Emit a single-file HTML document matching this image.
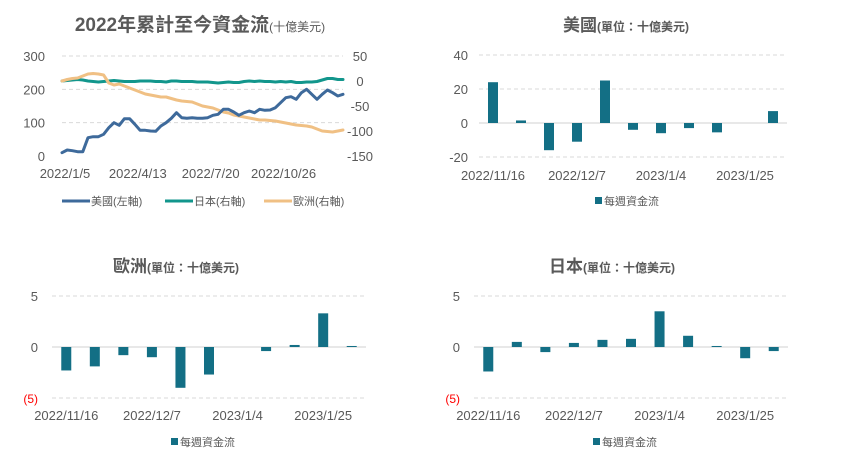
<!DOCTYPE html>
<html><head><meta charset="utf-8"><style>
body{margin:0;background:#fff;}
svg{display:block;font-family:"Liberation Sans","Noto Sans CJK TC",sans-serif;}
</style></head><body>
<svg id="s" width="852" height="472">
<text x="200" y="31" text-anchor="middle" fill="#595959" font-weight="bold"><tspan font-size="19">2022年累計至今資金流</tspan><tspan font-size="12" font-weight="normal">(十億美元)</tspan></text>
<text x="626" y="31" text-anchor="middle" fill="#595959" font-weight="bold"><tspan font-size="17">美國</tspan><tspan font-size="12">(單位：十億美元)</tspan></text>
<text x="176" y="272" text-anchor="middle" fill="#595959" font-weight="bold"><tspan font-size="17">歐洲</tspan><tspan font-size="12">(單位：十億美元)</tspan></text>
<text x="612" y="272" text-anchor="middle" fill="#595959" font-weight="bold"><tspan font-size="17">日本</tspan><tspan font-size="12">(單位：十億美元)</tspan></text>
</svg>
<script>
const usLine=[10,18,16,13,13,55,58,58,65,85,100,92,112,112,95,77,77,75,74,90,100,113,130,115,113,115,113,113,115,122,125,140,140,132,122,130,135,130,140,137,138,145,160,175,178,170,190,200,185,170,185,198,190,180,185];
const jpLine=[0,1,2,3,2,0,-1,-2,-1,0,1,0,-1,-1,-1,0,0,0,-1,-1,-2,0,0,-1,-1,-1,-2,-2,-2,-3,-4,-3,-2,-3,-3,-1,0,-1,0,-1,-1,-2,-1,-2,-1,-3,-3,-2,-2,-1,2,5,5,3,3];
const euLine=[0,3,5,6,10,14,15,14,12,-4,-8,-6,-10,-14,-18,-22,-26,-28,-30,-32,-32,-35,-38,-40,-41,-42,-46,-50,-52,-54,-58,-62,-64,-68,-70,-72,-74,-76,-78,-78,-79,-80,-82,-84,-86,-88,-89,-90,-92,-96,-100,-101,-102,-100,-98];
const lineTicks=["2022/1/5","2022/4/13","2022/7/20","2022/10/26"];
const lineTickIdx=[0,14,28,42];
const leftTicks=[0,100,200,300];
const rightTicks=[50,0,-50,-100,-150];
const weekCats=["2022/11/16","2022/11/23","2022/11/30","2022/12/7","2022/12/14","2022/12/21","2023/1/4","2023/1/11","2023/1/18","2023/1/25","2023/2/1"];
const barTickIdx=[0,3,6,9];
const usBars=[24,1.5,-16,-11,25,-4,-6,-3,-5.5,0,7];
const usTicks=[40,20,0,-20];
const euBars=[-2.3,-1.9,-0.8,-1.0,-4.0,-2.7,0,-0.4,0.2,3.3,0.1];
const jpBars=[-2.4,0.5,-0.5,0.4,0.7,0.8,3.5,1.1,0.1,-1.1,-0.4];
const smallTicks=[5,0,-5];

const S=document.getElementById('s');const NS='http://www.w3.org/2000/svg';
function el(t,a,txt){const e=document.createElementNS(NS,t);for(const k in a)e.setAttribute(k,a[k]);if(txt!==undefined)e.textContent=txt;S.appendChild(e);return e;}
const grey='#595959',grid='#d9d9d9',bar='#136f85';

const lx0=62,lx1=343,ly0=56,ly1=156;
const xL=i=>lx0+i*(lx1-lx0)/(usLine.length-1);
const yL=v=>ly1-(v/300)*(ly1-ly0);
const yR=v=>ly1-((v+150)/200)*(ly1-ly0);
leftTicks.forEach(t=>{
 if(t>0){const g=el('line',{x1:lx0,x2:lx1,y1:yL(t),y2:yL(t),stroke:grid,'stroke-dasharray':'4,3'});}
 const e=el('text',{x:45,y:yL(t)+5,'text-anchor':'end','font-size':13,fill:grey},t);
 
});
rightTicks.forEach(t=>{const e=el('text',{x:360,y:yR(t)+5,'text-anchor':'middle','font-size':13,fill:grey},t);
 });
lineTickIdx.forEach((ix,k)=>{const e=el('text',{x:xL(ix)+3,y:178,'text-anchor':'middle','font-size':13,fill:grey},lineTicks[k]);
 });
function poly(arr,yf,col,name){const p=arr.map((v,i)=>xL(i).toFixed(1)+','+yf(v).toFixed(1)).join(' ');
 const e=el('polyline',{points:p,fill:'none',stroke:col,'stroke-width':3,'stroke-linejoin':'round','stroke-linecap':'round'});
 }
poly(jpLine,yR,'#12968c','japan-line');
poly(euLine,yR,'#f0c084','europe-line');
poly(usLine,yL,'#3e6a9b','us-line');
[[62,'#3e6a9b','美國(左軸)','legend-us'],[165,'#12968c','日本(右軸)','legend-japan'],[264,'#f0c084','歐洲(右軸)','legend-europe']].forEach(l=>{
 const a=el('line',{x1:l[0],x2:l[0]+28,y1:201,y2:201,stroke:l[1],'stroke-width':3});
 const t=el('text',{x:l[0]+29,y:205,'font-size':11,fill:grey},l[2]);});

function barChart(vals,ticks,x0,x1,yTop,yZero,yBot,labelX,tickLabelY,legendY,name){
 const n=vals.length,band=(x1-x0)/n;const tmax=ticks[0];
 const y=v=>yZero-v*(yZero-yTop)/tmax;
 ticks.forEach(t=>{
  const g=el('line',{x1:x0,x2:x1,y1:y(t),y2:y(t),stroke:t==0?'#d0d0d0':grid,'stroke-dasharray':t==0?'':'4,3'});
  
  const paren=t<0&&ticks.length==3;
  const lbl=paren?'('+(-t)+')':t;
  const e=el('text',{x:labelX,y:y(t)+5,'text-anchor':'end','font-size':paren?12:13,fill:paren?'#ff0000':grey},lbl);
  
 });
 vals.forEach((v,i)=>{const cx=x0+band*(i+0.5);const r=el('rect',{x:cx-5,y:Math.min(y(v),yZero),width:10,height:Math.abs(y(v)-yZero),fill:bar});
  });
 barTickIdx.forEach(ix=>{const e=el('text',{x:x0+band*(ix+0.5),y:tickLabelY,'text-anchor':'middle','font-size':13,fill:grey},weekCats[ix]);
  });
 const cx=(x0+x1)/2;
 const sw=el('rect',{x:cx-38,y:legendY-8,width:7,height:7,fill:bar});
 const lt=el('text',{x:cx-29,y:legendY,'font-size':11,fill:grey},'每週資金流');
}
barChart(usBars,usTicks,479,787,55,123,157,468,180,205,'us');
barChart(euBars,smallTicks,52,366,296,347,398,38,420,446,'europe');
barChart(jpBars,smallTicks,474,788,296,347,398,460,420,446,'japan');
</script>
</body></html>
